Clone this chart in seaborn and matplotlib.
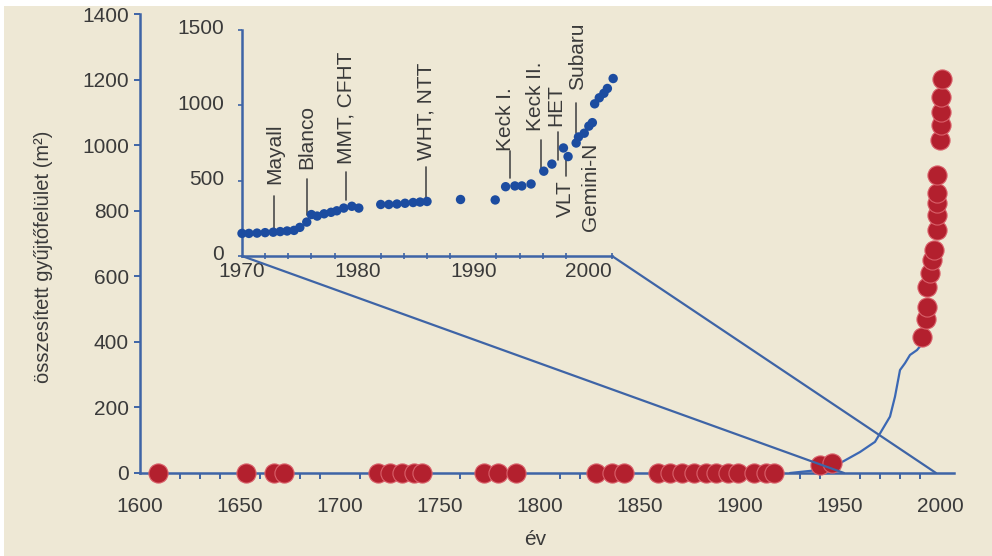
import matplotlib
matplotlib.use("Agg")
import matplotlib.pyplot as plt
from matplotlib.patches import ConnectionPatch, Rectangle
from matplotlib.ticker import MultipleLocator
from matplotlib.transforms import ScaledTranslation
import pandas as pd
import seaborn as sns

# Main panel: collecting area of individual telescopes (red dots)
hist_years = [1609, 1653, 1667, 1672, 1719, 1725, 1731, 1737, 1741, 1772, 1779, 1788,
              1828, 1836, 1842, 1859, 1865, 1871, 1877, 1883, 1888, 1894, 1899, 1907,
              1913, 1917, 1940, 1946,
              1990.8, 1992.8, 1993.5, 1993.3, 1995.0, 1996.2, 1997.0, 1998.3, 1998.6,
              1998.6, 1998.4, 1998.3, 2000.0, 2000.6, 2000.7, 2000.7, 2000.8]
hist_area = [0, 0, 0, 0, 0, 0, 0, 0, 0, 0, 0, 0,
             0, 0, 0, 0, 0, 0, 0, 0, 0, 0, 0, 0,
             0, 0, 25, 32,
             416, 470, 505, 567, 610, 649, 680, 740, 786,
             823, 853, 908, 1015, 1061, 1101, 1147, 1203]

# Main panel: cumulative curve (blue line)
curve_years = [1925, 1937.5, 1943, 1950, 1960, 1967.5, 1975, 1977.5, 1980, 1982.5,
               1985, 1988.5, 1990.5, 1991.2]
curve_area = [0, 8, 22, 30, 64, 95, 172, 233, 314, 335, 360, 375, 390, 405]

# Inset: cumulative collecting area 1970-2002
inset_years = [1970.0, 1970.6, 1971.3, 1972.0, 1972.7, 1973.3, 1973.9, 1974.5, 1975.0,
               1975.6, 1976.0, 1976.5, 1977.1, 1977.7, 1978.2, 1978.8, 1979.5, 1980.1,
               1982.0, 1982.7, 1983.4, 1984.1, 1984.8, 1985.4, 1986.0, 1988.9, 1991.9,
               1992.8, 1993.6, 1994.2, 1995.0, 1996.1, 1996.8, 1997.8, 1998.2, 1998.9,
               1999.1, 1999.6, 2000.0, 2000.3, 2000.5, 2000.9, 2001.3, 2001.6, 2002.1]
inset_area = [150, 150, 152, 155, 158, 162, 166, 170, 190,
              225, 275, 265, 280, 290, 300, 318, 330, 318,
              342, 342, 345, 350, 355, 358, 362, 375, 372,
              460, 465, 465, 478, 563, 610, 717, 660, 750,
              790, 815, 862, 885, 1010, 1050, 1080, 1112, 1178]

# Telescope names in the inset, with the end of each name and its leader line
tel_labels = ["Mayall", "Blanco", "MMT, CFHT", "WHT, NTT", "Keck I.", "Keck II.",
              "HET", "Subaru"]
tel_x = [1972.8, 1975.6, 1979.0, 1985.9, 1992.8, 1995.4, 1997.1, 1999.0]
tel_text_y = [480, 580, 610, 640, 700, 830, 860, 1100]
tel_line_lo = [186, 272, 372, 385, 517, 570, 637, 816]
tel_line_hi = [400, 510, 555, 590, 700, 770, 823, 1015]
tel_line_x = [1972.8, 1975.6, 1979.0, 1985.9, 1993.2, 1995.9, 1997.3, 1998.9]

# Names written below the points
low_labels = ["VLT", "Gemini-N"]
low_x = [1998.0, 2000.1]
low_y = [500, 750]

BG = "#EEE8D5"
AXIS = "#3E64A6"
TEXT = "#3A3A3A"
RED = "#B3202E"
DOT = "#1C4CA0"

sns.set_style("white")
plt.rcParams["font.family"] = ["Liberation Sans", "DejaVu Sans"]
plt.rcParams["font.size"] = 15

fig = plt.figure(figsize=(9.92, 5.56), dpi=100)
fig.patch.set_facecolor("white")
fig.add_artist(Rectangle((4 / 992, 0), 1, 1 - 6 / 556, transform=fig.transFigure,
                         facecolor=BG, edgecolor="none", zorder=-10))

# ---- main axes ----
ax = fig.add_axes([140 / 992, 83 / 556, 814 / 992, 459 / 556])
ax.set_facecolor("none")
df_hist = pd.DataFrame({"ev": hist_years, "terulet": hist_area})
df_curve = pd.DataFrame({"ev": curve_years, "terulet": curve_area})

sns.lineplot(data=df_curve, x="ev", y="terulet", ax=ax, sort=False, estimator=None,
             color="#3B68B4", lw=1.6, zorder=2)
sns.scatterplot(data=df_hist, x="ev", y="terulet", ax=ax, s=190, color=RED,
                edgecolor="#D9606A", linewidth=0.8, zorder=4, clip_on=False)

ax.set_xlim(1600, 2007)
ax.set_ylim(0, 1400)
ax.xaxis.set_major_locator(MultipleLocator(50))
ax.xaxis.set_minor_locator(MultipleLocator(10))
ax.yaxis.set_major_locator(MultipleLocator(200))
for s in ["top", "right"]:
    ax.spines[s].set_visible(False)
for s in ["left", "bottom"]:
    ax.spines[s].set_color(AXIS)
    ax.spines[s].set_linewidth(1.8)
ax.tick_params(axis="x", which="major", direction="inout", length=8, width=1.4,
               color=AXIS, pad=13, labelsize=15, labelcolor=TEXT)
ax.tick_params(axis="x", which="minor", direction="out", length=4, width=1.4,
               color=AXIS, bottom=True)
ax.tick_params(axis="y", which="major", direction="out", length=4, width=1.4,
               color=AXIS, pad=4, labelsize=15, labelcolor=TEXT, left=True)
ax.set_xlabel("év", fontsize=15, color=TEXT)
ax.set_ylabel("összesített gyűjtőfelület (m²)", fontsize=14.5, color=TEXT)
ax.xaxis.set_label_coords(0.485, -0.125)
ax.yaxis.set_label_coords(-0.107, 0.47)

# ---- inset axes ----
ax_in = fig.add_axes([242 / 992, 300 / 556, 370 / 992, 226 / 556])
ax_in.set_facecolor("none")
df_in = pd.DataFrame({"ev": inset_years, "terulet": inset_area})
sns.scatterplot(data=df_in, x="ev", y="terulet", ax=ax_in, s=46, color=DOT,
                edgecolor="none", zorder=4, clip_on=False)
ax_in.set_xlim(1970, 2002)
ax_in.set_ylim(0, 1500)
ax_in.xaxis.set_major_locator(MultipleLocator(10))
ax_in.xaxis.set_minor_locator(MultipleLocator(2))
ax_in.yaxis.set_major_locator(MultipleLocator(500))
for s in ["top", "right"]:
    ax_in.spines[s].set_visible(False)
for s in ["left", "bottom"]:
    ax_in.spines[s].set_color(AXIS)
    ax_in.spines[s].set_linewidth(1.8)
ax_in.tick_params(axis="x", which="major", direction="inout", length=6, width=1.3,
                  color=AXIS, pad=1, labelsize=15, labelcolor=TEXT)
ax_in.tick_params(axis="x", which="minor", direction="inout", length=4, width=1.2,
                  color=AXIS, bottom=True)
ax_in.tick_params(axis="y", which="major", direction="out", length=3, width=1.2,
                  color=AXIS, pad=10, labelsize=15, labelcolor=TEXT, left=True)
ax_in.set_xlabel("")
ax_in.set_ylabel("")
# lift the inset's y tick labels a little so "0" clears "1970"
lift = ScaledTranslation(0, 3 / 100, fig.dpi_scale_trans)
for lbl in ax_in.get_yticklabels():
    lbl.set_transform(lbl.get_transform() + lift)

for lab, x, ty, lo, hi, lx in zip(tel_labels, tel_x, tel_text_y, tel_line_lo,
                                   tel_line_hi, tel_line_x):
    ax_in.plot([lx, lx], [lo, hi], color="#4A4A4A", lw=1.2, zorder=3)
    ax_in.text(x, ty, lab, rotation=90, ha="center", va="bottom", fontsize=15,
               color=TEXT)
for lab, x, y in zip(low_labels, low_x, low_y):
    ax_in.text(x, y, lab, rotation=90, ha="center", va="top", fontsize=15, color=TEXT,
               clip_on=False)
ax_in.plot([1998.0, 1998.0], [530, 640], color="#4A4A4A", lw=1.2, zorder=3)

# ---- zoom connector lines ----
for xa, xb in [((1970, 0), (1952, 0)), ((2002, 0), (1998, 0))]:
    con = ConnectionPatch(xyA=xa, coordsA=ax_in.transData, xyB=xb,
                          coordsB=ax.transData, color=AXIS, lw=1.6, zorder=1)
    fig.add_artist(con)

fig.savefig("out.png", dpi=100, facecolor=fig.get_facecolor())
